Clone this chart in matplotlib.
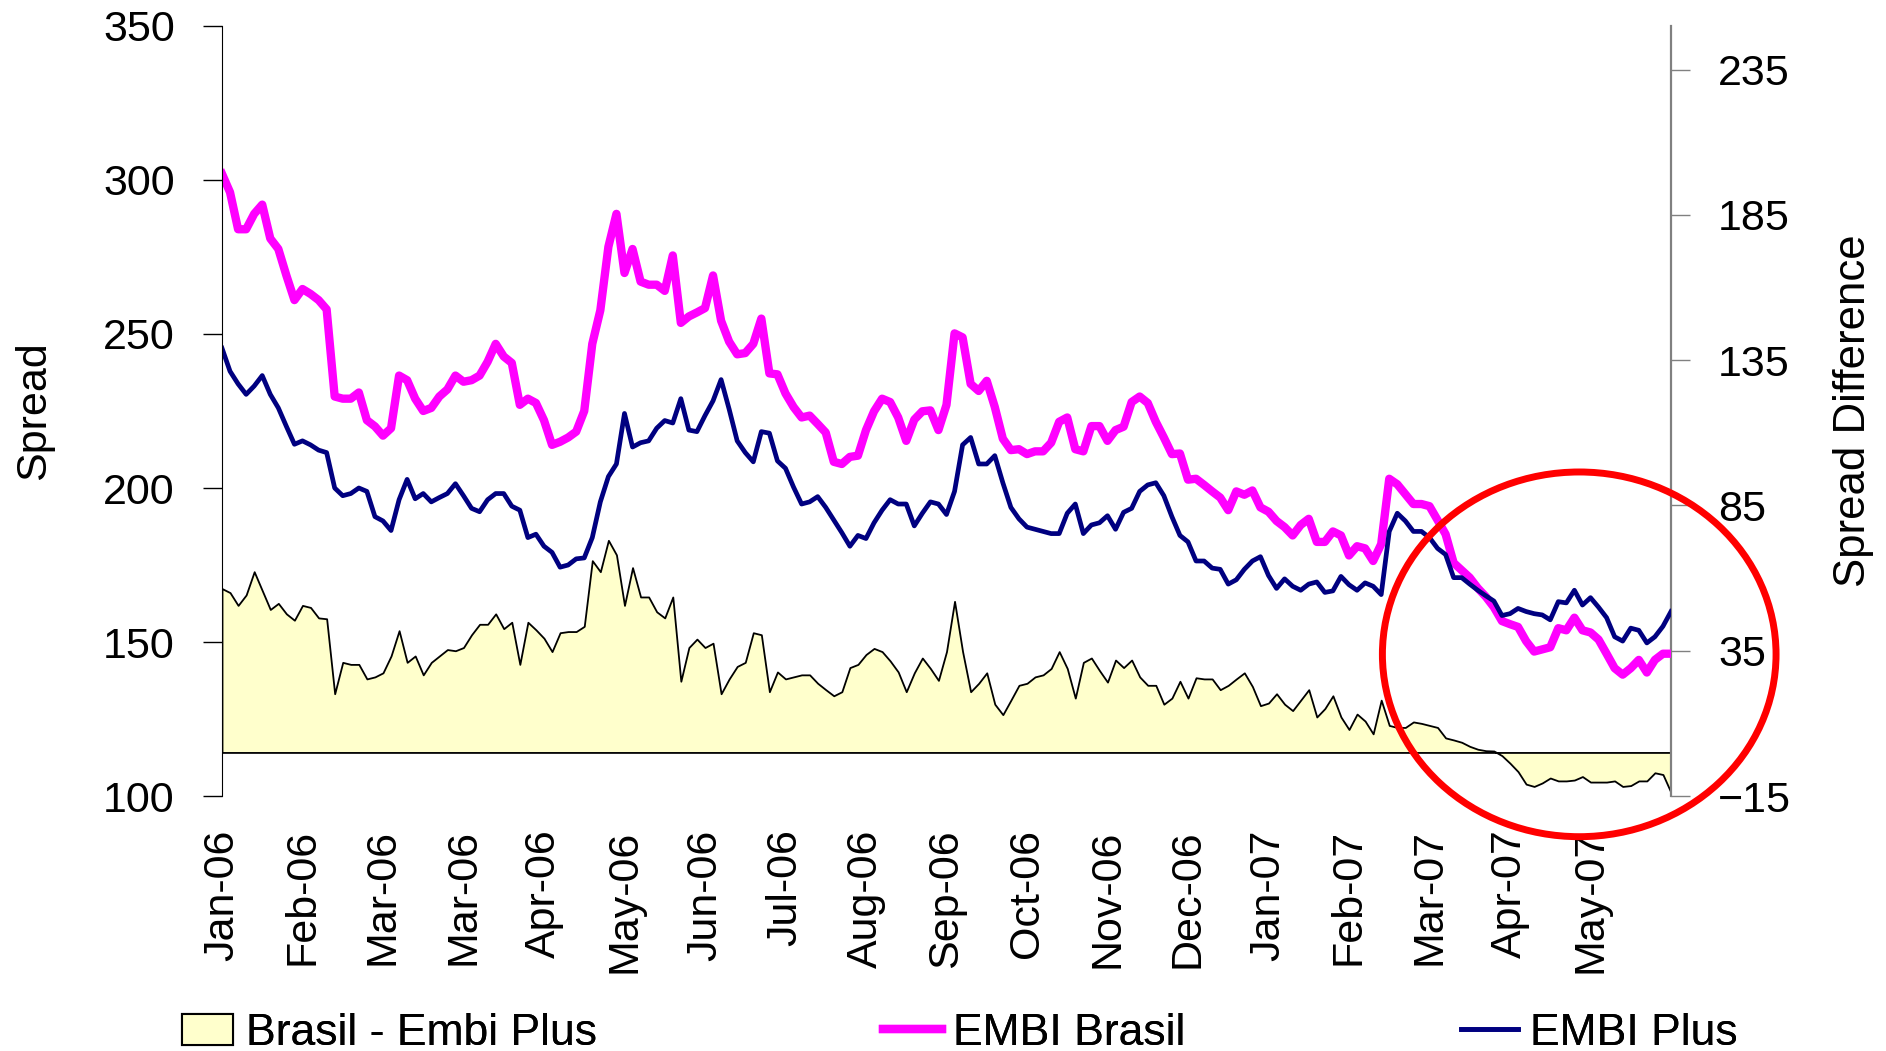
import numpy as np
import matplotlib
matplotlib.use("Agg")
import matplotlib.pyplot as plt
from matplotlib.patches import Ellipse, Patch
from matplotlib.lines import Line2D

plt.rcParams['font.family'] = ['Liberation Sans', 'DejaVu Sans']

# month labels, one every 10 points
month_labels = ['Jan-06', 'Feb-06', 'Mar-06', 'Mar-06', 'Apr-06', 'May-06', 'Jun-06',
                'Jul-06', 'Aug-06', 'Sep-06', 'Oct-06', 'Nov-06', 'Dec-06', 'Jan-07',
                'Feb-07', 'Mar-07', 'Apr-07', 'May-07']

# EMBI Brasil spread (left axis)
embi_brasil = [
    302, 296, 284, 284, 289, 292, 281, 277.6, 269, 261, 264.6, 263, 261, 258, 229.7,
    229, 229, 231, 222, 220, 217, 219.4, 236.5, 235, 229, 225, 226, 229.7, 232, 236.5,
    234.5, 235, 236.5, 241, 246.8, 242.7, 240.6,
    227, 229, 227.6, 222, 214, 215, 216.4, 218.3, 225, 246.8, 257.7, 278.3, 289, 269.8,
    277.6, 267, 266, 266, 264, 275.5, 253.6, 255.7, 257, 258.4, 269, 254.3, 247.5, 243.4,
    243.8, 246.8, 255, 237.2, 236.9, 230.7, 226.3, 222.9,
    223.5, 220.8, 218, 208.5, 207.8, 210.1, 210.5, 218.8, 224.9, 229, 227.9, 222.9, 215.3,
    222.2, 224.9, 225.2, 218.8, 227, 250.2, 248.9, 233.8, 231.5, 234.8, 226.3, 216, 212.3,
    212.6, 211, 211.9, 211.9, 214.7, 221.5, 222.9, 212.6, 211.9, 220.1,
    220.1, 215.3, 218.8, 219.9, 227.9, 229.7, 227.6, 221.5, 216.4, 211, 211.2, 202.7, 203,
    201, 198.9, 196.9, 192.8, 198.9, 197.8, 199.2, 193.7, 192.3, 189.3, 187.3, 184.6, 188,
    190, 182.5, 182.5, 185.9, 184.6, 178.1, 181.1, 180.4, 176.3, 181.8,
    203, 201.2, 198, 194.8, 194.8, 194.1, 189.6, 185, 175.7, 173.3, 170.9, 167.5, 164.7,
    161.3, 156.8, 155.8, 154.9, 150.3, 146.9, 147.6, 148.3, 154.5, 153.8, 157.9, 153.8,
    153.1, 150.8, 146.2, 141.5, 139.4, 141.5, 144.2, 140.1, 144.2, 146.2, 146.2,
]

# EMBI Plus spread (left axis)
embi_plus = [
    245.4, 237.9, 233.8, 230.4, 233.1, 236.5, 230.4, 226, 220, 214.2, 215.3, 214, 212.3,
    211.5, 200, 197.5, 198.2, 200, 198.9, 190.7, 189.3, 186.2, 196.2, 202.8, 196.5, 198.2,
    195.5, 196.9, 198.2, 201.4, 197.5, 193.4, 192.3, 196.2, 198.2, 198.2, 194.1,
    192.8, 183.9, 185, 181.1, 179.1, 174.3, 175, 177, 177.3, 183.9, 195.5, 203.7, 207.8,
    224.2, 213.3, 214.7, 215.3, 219.4, 221.9, 221.1, 229, 218.8, 218.3, 223.5, 228.3,
    235.2, 225.6, 215.3, 211.5, 208.5, 218.3, 217.8, 208.8, 206.4, 200.3, 194.8,
    195.5, 197.2, 193.7, 189.6, 185.5, 181.1, 184.6, 183.6, 188.7, 192.8, 196.2, 194.8,
    194.8, 187.7, 191.8, 195.5, 194.8, 191.4, 198.9, 214, 216.4, 207.8, 207.8, 210.5,
    201.7, 193.7, 190, 187.3, 186.6, 185.9, 185.2, 185.2, 191.8, 194.8, 185.2, 188,
    188.7, 191, 186.6, 192.1, 193.4, 198.9, 201, 201.7, 197.5, 190.7, 184.6, 182.5, 176.3,
    176.3, 174, 173.6, 168.8, 170.2, 173.6, 176.3, 177.7, 171.6, 167.4, 170.5, 168.1,
    166.8, 168.8, 169.5, 166.1, 166.6, 171.3, 168.6, 166.8, 169.2, 168.1, 165.4,
    185.9, 191.8, 189.3, 185.9, 185.9, 183.9, 180.4, 178.4, 170.9, 170.9, 168.8, 166.8,
    165, 163.3, 158.6, 159.2, 160.9, 159.9, 159.2, 158.8, 157.2, 163.1, 162.7, 166.8, 162,
    164.4, 161.3, 157.9, 151.7, 150.3, 154.5, 153.8, 149.7, 151.7, 155.1, 159.9,
]

# Brasil - Embi Plus (right axis)
spread_diff = [
    56.4, 55, 50.6, 54.2, 62.2, 55.7, 49.2, 51.3, 47.7, 45.5, 50.6, 49.9, 46.3, 46, 20.2,
    31, 30.3, 30.3, 25.3, 26, 27.4, 33.2, 41.9, 31, 33.2, 26.7, 31, 33.2, 35.4, 35, 36.1,
    40.5, 44.1, 44.1, 47.7, 42.6, 44.8,
    30.3, 44.8, 42.2, 39.3, 34.7, 41.2, 41.6, 41.6, 43.4, 66, 62.2, 73, 68, 50.6, 63.6,
    53.5, 53.5, 48.4, 46.3, 53.5, 24.5, 36.1, 39, 36.1, 37.6, 20.2, 25.3, 29.6, 31, 41.2,
    40.5, 20.9, 27.7, 25.3, 26, 26.7,
    26.7, 23.8, 21.6, 19.5, 20.9, 29.2, 30.3, 33.7, 35.8, 34.7, 31.5, 27.7, 20.9, 27.4,
    32.5, 28.9, 24.8, 34.7, 52, 34.7, 20.9, 23.8, 27.4, 16.6, 13, 18, 23.1, 23.8, 26, 26.7,
    28.9, 34.7, 28.9, 18.7, 31, 32.5,
    28.2, 24.2, 31.8, 29.2, 31.8, 26, 23.1, 23.1, 16.6, 18.7, 24.5, 18.7, 25.7, 25.3, 25.3,
    21.6, 23.1, 25.3, 27.4, 22.7, 16.1, 17, 20.2, 16.6, 14.4, 18, 21.6, 12.2, 15.1, 19.5,
    12.2, 7.9, 13.2, 10.8, 6.4, 18,
    9.3, 8.6, 8.6, 10.5, 10, 9.3, 8.6, 5, 4.3, 3.5, 2.1, 1.1, 0.6, 0.5, -1.1, -3.7, -6.6,
    -10.9, -11.7, -10.5, -8.8, -9.8, -9.8, -9.5, -8.3, -10.2, -10.2, -10.2, -9.8, -11.7,
    -11.4, -9.8, -9.8, -7, -7.6, -13.8,
]

x = np.arange(len(embi_brasil))
label_step = 10
fs = 31
legend_fs = 32

fig = plt.figure(figsize=(18.86, 10.51), dpi=100)
ax = fig.add_axes([0.1177, 0.2426, 0.7683, 0.7327])
ax2 = ax.twinx()

# area on the secondary axis, behind the lines
ax2.fill_between(x, 0, spread_diff, facecolor='#FFFFCC', edgecolor='black', lw=1.3)
ax.plot(x, embi_brasil, color='#FF00FF', lw=6, solid_joinstyle='round')
ax.plot(x, embi_plus, color='#000080', lw=3.4)

ax.set_zorder(ax2.get_zorder() + 1)
ax.patch.set_visible(False)

ax.set_xlim(0, len(x) - 1)
ax.set_ylim(100, 350)
ax.set_yticks(np.arange(100, 351, 50))
ax2.set_ylim(-15, 250)
ax2.set_yticks(np.arange(-15, 236, 50))

ax.set_xticks(x[::label_step][:len(month_labels)])
ax.set_xticklabels(month_labels, rotation=90, fontsize=fs)
ax.tick_params(axis='x', length=0, pad=24)
ax.tick_params(axis='y', direction='out', length=14, width=1, pad=20, labelsize=fs)
ax2.tick_params(axis='y', direction='out', length=14, width=1, pad=20, labelsize=fs,
                color='#808080')

for s in ['top', 'bottom', 'right']:
    ax.spines[s].set_visible(False)
for s in ['top', 'bottom', 'left']:
    ax2.spines[s].set_visible(False)
ax.spines['left'].set_color('black')
ax2.spines['right'].set_color('#808080')
ax2.spines['right'].set_linewidth(1.6)

ax.set_ylabel('Spread', fontsize=31, labelpad=35)
ax2.set_ylabel('Spread Difference', fontsize=31.5, labelpad=30)

# red highlight ellipse around the last months
ell = Ellipse((168.6, 146), 48.9, 118.4, fill=False, edgecolor='#FF0000', lw=5,
              clip_on=False, zorder=10)
ax.add_patch(ell)

# legend entries placed one by one along the bottom
entries = [
    (Patch(facecolor='#FFFFCC', edgecolor='black', lw=1.5), 'Brasil - Embi Plus', 0.0963, 1.15, 0.3),
    (Line2D([], [], color='#FF00FF', lw=6), 'EMBI Brasil', 0.468, 1.33, 0.25),
    (Line2D([], [], color='#000080', lw=3.4), 'EMBI Plus', 0.7745, 1.3, 0.25),
]
for handle, label, xpos, hlen, hpad in entries:
    leg = fig.legend([handle], [label], loc='center left', bbox_to_anchor=(xpos, 0.017),
                     frameon=False, fontsize=legend_fs, handlelength=hlen,
                     handletextpad=hpad, borderpad=0, borderaxespad=0)
    fig.add_artist(leg)

fig.savefig('out.png', dpi=100)
